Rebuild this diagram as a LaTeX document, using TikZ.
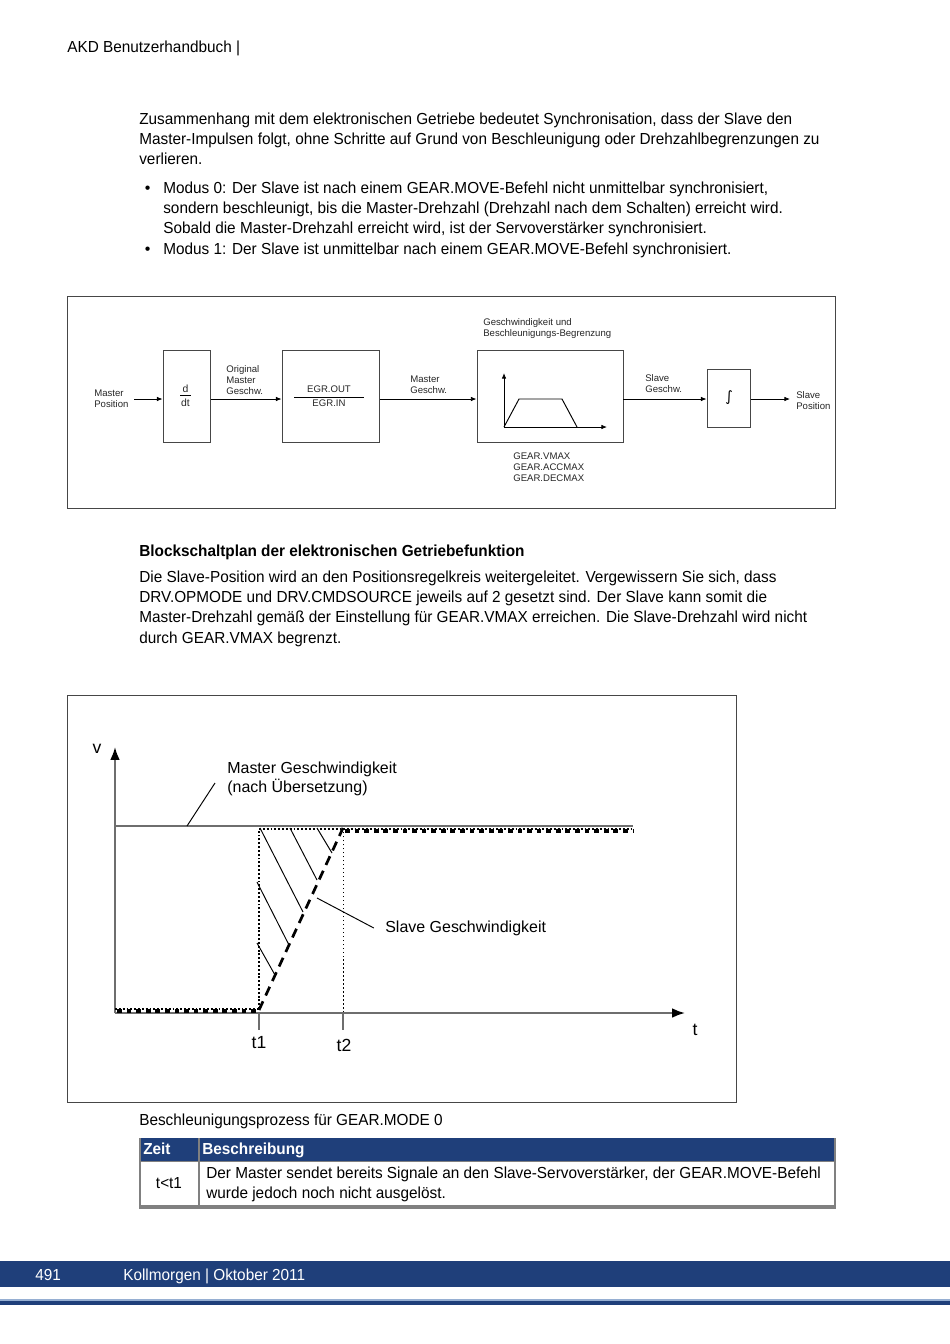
\documentclass[tikz,border=0pt]{standalone}
\usepackage{fontspec}
\setmainfont{Liberation Sans}
\newfontfamily\bodyfont{Liberation Sans}[FakeStretch=0.96]
\newfontfamily\symfont{DejaVu Sans}
\usetikzlibrary{arrows.meta}
\definecolor{akdBlue}{RGB}{31,63,122}
\definecolor{akdLight}{RGB}{150,175,210}
\definecolor{lineGray}{RGB}{110,110,110}
\definecolor{frameGray}{RGB}{70,70,70}
\definecolor{tableGray}{RGB}{128,128,128}

\tikzset{
  body/.style={anchor=base west, inner sep=0pt, font=\bodyfont\fontsize{10}{12}\selectfont},
  blk/.style={draw=frameGray, line width=0.6pt, inner sep=0pt},
  lbl/.style={inner sep=0pt, font=\fontsize{6}{6.9}\selectfont, align=left, text=black!85},
  sig/.style={line width=0.5pt, -{Latex[length=3.5pt,width=2.8pt]}},
  axis/.style={lineGray, line width=1.2pt, -{Latex[length=8pt,width=6pt,color=black]}},
  plotlbl/.style={inner sep=0pt, font=\fontsize{10}{11.5}\selectfont, align=left},
  slavedot/.style={line width=1.8pt, dash pattern=on 1.2pt off 1.2pt},
  slaveteeth/.style={line width=2.6pt, dash pattern=on 3pt off 3pt},
  ramp/.style={line width=1.7pt, dash pattern=on 6pt off 4pt},
  hatch/.style={line width=0.6pt},
}

\begin{document}
\begin{tikzpicture}[x=0.626pt, y=-0.626pt]
  \useasboundingbox[fill=white] (0,0) rectangle (950,1344);

  % page header and text above the block diagram
  \node[body] (head) at (67,52) {AKD Benutzerhandbuch |};
  \node[body] (p1a) at (139,124) {Zusammenhang mit dem elektronischen Getriebe bedeutet Synchronisation, dass der Slave den};
  \node[body] (p1b) at (139,144) {Master-Impulsen folgt, ohne Schritte auf Grund von Beschleunigung oder Drehzahlbegrenzungen zu};
  \node[body] (p1c) at (139,164) {verlieren.};
  \node[body, font=\fontsize{10}{12}\selectfont] (b1) at (144.5,193) {\textbullet};
  \node[body] (m0a) at (163,193) {Modus 0: Der Slave ist nach einem GEAR.MOVE-Befehl nicht unmittelbar synchronisiert,};
  \node[body] (m0b) at (163,213) {sondern beschleunigt, bis die Master-Drehzahl (Drehzahl nach dem Schalten) erreicht wird.};
  \node[body] (m0c) at (163,233) {Sobald die Master-Drehzahl erreicht wird, ist der Servoverstärker synchronisiert.};
  \node[body, font=\fontsize{10}{12}\selectfont] (b2) at (144.5,254) {\textbullet};
  \node[body] (m1a) at (163,254) {Modus 1: Der Slave ist unmittelbar nach einem GEAR.MOVE-Befehl synchronisiert.};

  % block diagram
  \draw[frameGray, line width=0.6pt] (67,296) rectangle (835,508);
  \coordinate (min) at (134,399);
  \coordinate (sout) at (790,399);
  \node[blk, minimum width=30.0pt, minimum height=57.6pt] (ddt) at (187,396) {};
  \node[blk, minimum width=61.3pt, minimum height=57.6pt] (egr) at (331,396) {};
  \node[blk, minimum width=91.4pt, minimum height=57.6pt] (lim) at (550,396) {};
  \node[blk, minimum width=27.5pt, minimum height=36.3pt] (intg) at (729,398) {};

  \draw[sig] (min) -- (ddt.west |- min);
  \draw[sig] (ddt.east |- min) -- (egr.west |- min);
  \draw[sig] (egr.east |- min) -- (lim.west |- min);
  \draw[sig] (lim.east |- min) -- (intg.west |- min);
  \draw[sig] (intg.east |- min) -- (sout);

  \node[lbl, anchor=west] (mpos) at (94,399) {Master\\Position};
  \node[lbl, anchor=west] (omg) at (226,380) {Original\\Master\\Geschw.};
  \node[lbl, anchor=west] (mg) at (410,385) {Master\\Geschw.};
  \node[lbl, anchor=west] (limtxt) at (483,328.5) {Geschwindigkeit und\\Beschleunigungs-Begrenzung};
  \node[lbl, anchor=west] (gear) at (513,467) {GEAR.VMAX\\GEAR.ACCMAX\\GEAR.DECMAX};
  \node[lbl, anchor=west] (sg) at (645,383.5) {Slave\\Geschw.};
  \node[lbl, anchor=west] (spos) at (796,400.5) {Slave\\Position};

  \draw[line width=0.5pt] (180,395) -- (191,395);
  \node[lbl, font=\fontsize{6.5}{7}\selectfont] (dnum) at (185.5,389) {d};
  \node[lbl, font=\fontsize{6.5}{7}\selectfont] (dden) at (185.5,403) {dt};
  \draw[line width=0.5pt] (294,397) -- (364,397);
  \node[lbl] (egrout) at (329,389) {EGR.OUT};
  \node[lbl] (egrin) at (329,403) {EGR.IN};
  \node[inner sep=0pt, font=\symfont\fontsize{9}{10}\selectfont] (intsym) at (729,398) {∫};

  % small ramp inside the limiter
  \draw[sig] (504,427) -- (504,373);
  \draw[sig] (504,427) -- (607,427);
  \draw[line width=0.6pt] (504,427) -- (519,399) -- (562,399) -- (577,427);

  % text between the pictures
  \node[body, font=\bodyfont\bfseries\fontsize{10}{12}\selectfont] (bsp) at (139,556) {Blockschaltplan der elektronischen Getriebefunktion};
  \node[body] (p2a) at (139,582) {Die Slave-Position wird an den Positionsregelkreis weitergeleitet. Vergewissern Sie sich, dass};
  \node[body] (p2b) at (139,602) {DRV.OPMODE und DRV.CMDSOURCE jeweils auf 2 gesetzt sind. Der Slave kann somit die};
  \node[body] (p2c) at (139,622) {Master-Drehzahl gemäß der Einstellung für GEAR.VMAX erreichen. Die Slave-Drehzahl wird nicht};
  \node[body] (p2d) at (139,643) {durch GEAR.VMAX begrenzt.};

  % velocity plot
  \draw[frameGray, line width=0.6pt] (67,695) rectangle (736,1102);
  \coordinate (O) at (115,1013);
  \coordinate (vtop) at (115,747);
  \coordinate (ttip) at (685,1013);
  \coordinate (t1) at (259,1013);
  \coordinate (t2) at (343,1013);
  \coordinate (mstart) at (115,826);
  \coordinate (mend) at (633,826);

  \draw[lineGray, line width=1.2pt] (t1) -- ++(0,17);
  \draw[lineGray, line width=1.2pt] (t2) -- ++(0,17);
  \draw[line width=0.5pt, dash pattern=on 1pt off 1.5pt] (t2) -- (343,829);
  \draw[lineGray, line width=1.2pt] (mstart) -- (mend);
  \draw[axis] (O) -- (vtop);
  \draw[axis] (O) -- (ttip);

  % slave curves
  \draw[slavedot] (115,1009) -- (259,1009);
  \draw[slaveteeth] (117,1011) -- (259,1011);
  \draw[slavedot] (259,1009) -- (259,829);
  \draw[slavedot] (259,829) -- (343,829);
  \draw[slavedot] (343,829) -- (633,829);
  \draw[slaveteeth] (345,831) -- (633,831);
  \draw[ramp] (259,1010) -- (343,828);
  \foreach \xa/\ya/\xb/\yb in {260/828/303/912, 290/828/317/880, 317/828/332/853,
                               257/882/289/945, 257/943/275/975}
    \draw[hatch] (\xa,\ya) -- (\xb,\yb);

  \node[plotlbl, font=\fontsize{11}{12}\selectfont] (vlbl) at (97,749) {v};
  \node[plotlbl, font=\fontsize{11}{12}\selectfont] (tlbl) at (695,1030) {t};
  \node[plotlbl, font=\fontsize{11}{12}\selectfont] (t1lbl) at (259,1043) {t1};
  \node[plotlbl, font=\fontsize{11}{12}\selectfont] (t2lbl) at (344,1045) {t2};

  \node[plotlbl, anchor=west] (mlbl) at (227,779) {Master Geschwindigkeit\\(nach Übersetzung)};
  \coordinate (mfoot) at (187,826);
  \coordinate (mhead) at (215,783);
  \draw[line width=0.6pt] (mfoot) -- (mhead);
  \node[plotlbl, anchor=west] (slbl) at (385,928) {Slave Geschwindigkeit};
  \coordinate (sfoot) at (317,898);
  \draw[line width=0.6pt] (sfoot) -- ([xshift=-7pt]slbl.west);

  % caption and table
  \node[body] (cap) at (139,1125) {Beschleunigungsprozess für GEAR.MODE 0};
  \fill[akdBlue] (139,1138) rectangle (836,1161);
  \draw[tableGray, line width=1.2pt] (140,1138) -- (140,1207);
  \draw[tableGray, line width=1.2pt] (835,1138) -- (835,1207);
  \draw[tableGray, line width=2.4pt] (139,1207) -- (836,1207);
  \draw[tableGray, line width=0.6pt] (139,1161) -- (836,1161);
  \draw[tableGray, line width=1pt] (199,1138) -- (199,1207);
  \node[body, text=white, font=\bodyfont\bfseries\fontsize{10}{12}\selectfont] (hz) at (143,1154) {Zeit};
  \node[body, text=white, font=\bodyfont\bfseries\fontsize{10}{12}\selectfont] (hb) at (202,1154) {Beschreibung};
  \node[body, anchor=base] (tt1) at (169,1188) {t<t1};
  \node[body] (ra) at (206,1178) {Der Master sendet bereits Signale an den Slave-Servoverstärker, der GEAR.MOVE-Befehl};
  \node[body] (rb) at (206,1198) {wurde jedoch noch nicht ausgelöst.};

  % footer
  \fill[akdBlue] (0,1261) rectangle (950,1287);
  \fill[akdLight] (0,1299) rectangle (950,1301);
  \fill[akdBlue] (0,1301) rectangle (950,1305);
  \node[body, text=white] (pno) at (35,1280) {491};
  \node[body, text=white] (foot) at (123,1280) {Kollmorgen | Oktober 2011};
\end{tikzpicture}
\end{document}
